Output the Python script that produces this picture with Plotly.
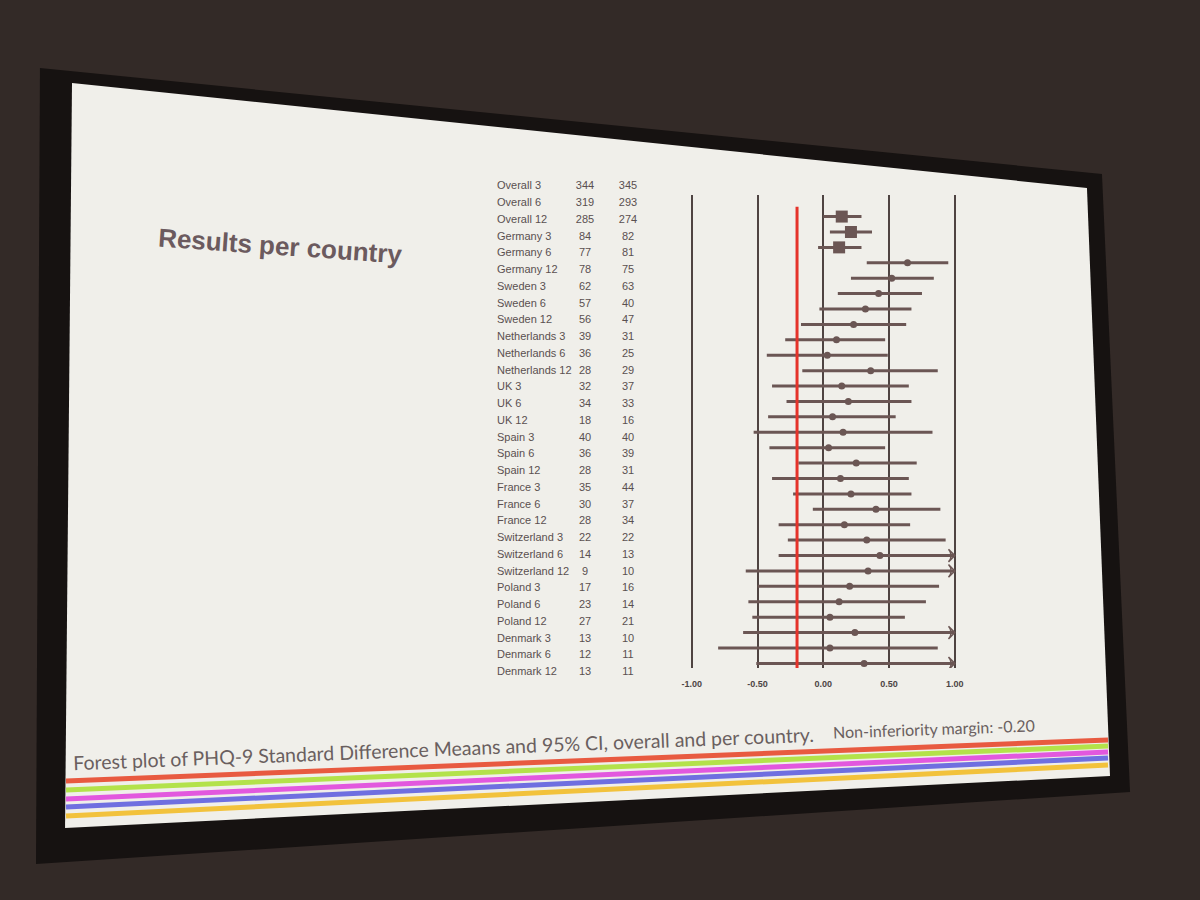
import plotly.graph_objects as go

# rows of the forest plot (top to bottom)
labels = ["Overall 3", "Overall 6", "Overall 12",
          "Germany 3", "Germany 6", "Germany 12",
          "Sweden 3", "Sweden 6", "Sweden 12",
          "Netherlands 3", "Netherlands 6", "Netherlands 12",
          "UK 3", "UK 6", "UK 12",
          "Spain 3", "Spain 6", "Spain 12",
          "France 3", "France 6", "France 12",
          "Switzerland 3", "Switzerland 6", "Switzerland 12",
          "Poland 3", "Poland 6", "Poland 12",
          "Denmark 3", "Denmark 6", "Denmark 12"]
n_group1 = [344, 319, 285, 84, 77, 78, 62, 57, 56, 39, 36, 28, 32, 34, 18,
            40, 36, 28, 35, 30, 28, 22, 14, 9, 17, 23, 27, 13, 12, 13]
n_group2 = [345, 293, 274, 82, 81, 75, 63, 40, 47, 31, 25, 29, 37, 33, 16,
            40, 39, 31, 44, 37, 34, 22, 13, 10, 16, 14, 21, 10, 11, 11]
smd = [0.14, 0.21, 0.12, 0.64, 0.52, 0.42, 0.32, 0.23, 0.10, 0.03,
       0.36, 0.14, 0.19, 0.07, 0.15, 0.04, 0.25, 0.13, 0.21, 0.40,
       0.16, 0.33, 0.43, 0.34, 0.20, 0.12, 0.05, 0.24, 0.05, 0.31]
ci_low = [0.00, 0.05, -0.04, 0.33, 0.21, 0.11, -0.03, -0.17, -0.29, -0.43,
          -0.16, -0.39, -0.28, -0.42, -0.53, -0.41, -0.19, -0.39, -0.23, -0.08,
          -0.34, -0.27, -0.34, -0.59, -0.50, -0.57, -0.54, -0.61, -0.80, -0.51]
# upper limits beyond 1.00 are cut at the axis end (drawn with an arrow)
ci_high = [0.29, 0.37, 0.29, 0.95, 0.84, 0.75, 0.67, 0.63, 0.47, 0.49,
           0.87, 0.65, 0.67, 0.55, 0.83, 0.47, 0.71, 0.65, 0.67, 0.89,
           0.66, 0.93, 1.00, 1.00, 0.88, 0.78, 0.62, 1.00, 0.87, 1.00]
n_overall = 3
margin_value = -0.20
x_ticks = [-1.0, -0.5, 0.0, 0.5, 1.0]
x_tick_text = ["-1.00", "-0.50", "0.00", "0.50", "1.00"]

title_text = "Results per country"
caption_text = ("Forest plot of PHQ-9 Standard Difference Meaans and 95% CI, "
                "overall and per country.")
margin_text = "Non-inferiority margin: -0.20"

W, H = 1200, 900
INK = "#6b5654"
GRID = "#4f4442"
TEXT = "#5a5050"


def px(x, y):
    return x / W, 1 - y / H


def quad(points):
    pts = [px(x, y) for x, y in points]
    return "M " + " L ".join(f"{a:.4f},{b:.4f}" for a, b in pts) + " Z"


def main():
    n = len(labels)
    rows = list(range(n))
    x_max = x_ticks[-1]

    fig = go.Figure()

    # confidence intervals
    xs, ys = [], []
    for r, lo, hi in zip(rows, ci_low, ci_high):
        xs += [lo, min(hi, x_max), None]
        ys += [r, r, None]
    fig.add_trace(go.Scatter(x=xs, y=ys, mode="lines",
                             line=dict(color=INK, width=3),
                             hoverinfo="skip", showlegend=False))

    # arrows for cut intervals
    cut = [r for r, hi in zip(rows, ci_high) if hi >= x_max]
    fig.add_trace(go.Scatter(x=[x_max] * len(cut), y=cut, mode="markers",
                             marker=dict(symbol="arrow-wide-open", angle=90,
                                         size=9, color=INK,
                                         line=dict(color=INK, width=1.5)),
                             hoverinfo="skip", showlegend=False))

    # point estimates: squares for overall, dots for countries
    fig.add_trace(go.Scatter(x=smd[:n_overall], y=rows[:n_overall],
                             mode="markers",
                             marker=dict(symbol="square", size=12, color=INK),
                             text=labels[:n_overall], showlegend=False))
    fig.add_trace(go.Scatter(x=smd[n_overall:], y=rows[n_overall:],
                             mode="markers",
                             marker=dict(symbol="circle", size=7, color=INK),
                             text=labels[n_overall:], showlegend=False))

    # table of labels and group sizes
    columns = [(497, labels, "middle right"),
               (585, n_group1, "middle center"),
               (628, n_group2, "middle center")]
    for col_x, values, pos in columns:
        fig.add_trace(go.Scatter(x=[col_x] * n, y=rows, text=values,
                                 mode="text", textposition=pos,
                                 textfont=dict(family="Liberation Sans",
                                               size=11, color=TEXT),
                                 xaxis="x2", yaxis="y2", hoverinfo="skip",
                                 showlegend=False))

    shapes = [
        # screen frame and projected slide
        dict(type="path", xref="paper", yref="paper", layer="below",
             path=quad([(40, 68), (1102, 174), (1130, 792), (36, 864)]),
             fillcolor="#161211", line=dict(width=0)),
        dict(type="path", xref="paper", yref="paper", layer="below",
             path=quad([(72, 83), (1087, 188), (1110, 776), (65, 828)]),
             fillcolor="#f0efea", line=dict(width=0)),
        # non-inferiority margin
        dict(type="line", xref="x", yref="y domain", layer="above",
             x0=margin_value, x1=margin_value, y0=0, y1=0.975,
             line=dict(color="#e5332a", width=3)),
    ]
    stripes = [("#e85a40", 781, 740), ("#b3e24a", 790, 746),
               ("#e258de", 799, 752), ("#6f6fe0", 807, 758),
               ("#f2c23c", 816, 765)]
    for colour, y_left, y_right in stripes:
        x0, y0 = px(66, y_left)
        x1, y1 = px(1108, y_right)
        shapes.append(dict(type="line", xref="paper", yref="paper",
                           x0=x0, y0=y0, x1=x1, y1=y1, layer="below",
                           line=dict(color=colour, width=5)))

    tx, ty = px(280, 246)
    cx, cy = px(443, 748)
    mx, my = px(934, 728)
    annotations = [
        dict(text=f"<b>{title_text}</b>", x=tx, y=ty, xref="paper",
             yref="paper", xanchor="center", yanchor="middle",
             showarrow=False, textangle=4,
             font=dict(family="Liberation Sans", size=26, color="#6b5a5e")),
        dict(text=caption_text, x=cx, y=cy, xref="paper", yref="paper",
             xanchor="center", yanchor="middle",
             showarrow=False, textangle=-2.2,
             font=dict(family="Lato", size=19.5, color="#6a5f5f")),
        dict(text=margin_text, x=mx, y=my, xref="paper", yref="paper",
             xanchor="center", yanchor="middle",
             showarrow=False, textangle=-2,
             font=dict(family="Lato", size=16, color="#6a5f5f")),
    ]

    fig.update_layout(
        width=W, height=H,
        margin=dict(l=0, r=0, t=0, b=0),
        paper_bgcolor="#332a27",
        plot_bgcolor="rgba(0,0,0,0)",
        shapes=shapes,
        annotations=annotations,
        xaxis=dict(domain=[680 / W, 968 / W], range=[-1.09, 1.10],
                   tickvals=x_ticks, ticktext=x_tick_text,
                   showgrid=True, gridcolor=GRID, gridwidth=2,
                   zeroline=False, showline=False, ticks="",
                   ticklabelstandoff=9,
                   tickfont=dict(family="Liberation Sans", size=9,
                                 color="#4d4545", weight="bold"),
                   fixedrange=True),
        yaxis=dict(domain=[1 - 668 / H, 1 - 195 / H],
                   range=[n - 1 + 0.3, -1.4],
                   showgrid=False, zeroline=False, showticklabels=False,
                   fixedrange=True),
        xaxis2=dict(domain=[490 / W, 650 / W], range=[490, 650],
                    visible=False, anchor="y2", fixedrange=True),
        yaxis2=dict(domain=[1 - 679 / H, 1 - 180 / H],
                    range=[n - 1 + 0.4, -0.4], visible=False,
                    anchor="x2", fixedrange=True),
    )

    fig.write_html("out.html", config={"displayModeBar": False},
                   post_script="document.body.style.margin = '0';")


if __name__ == "__main__":

    main()
